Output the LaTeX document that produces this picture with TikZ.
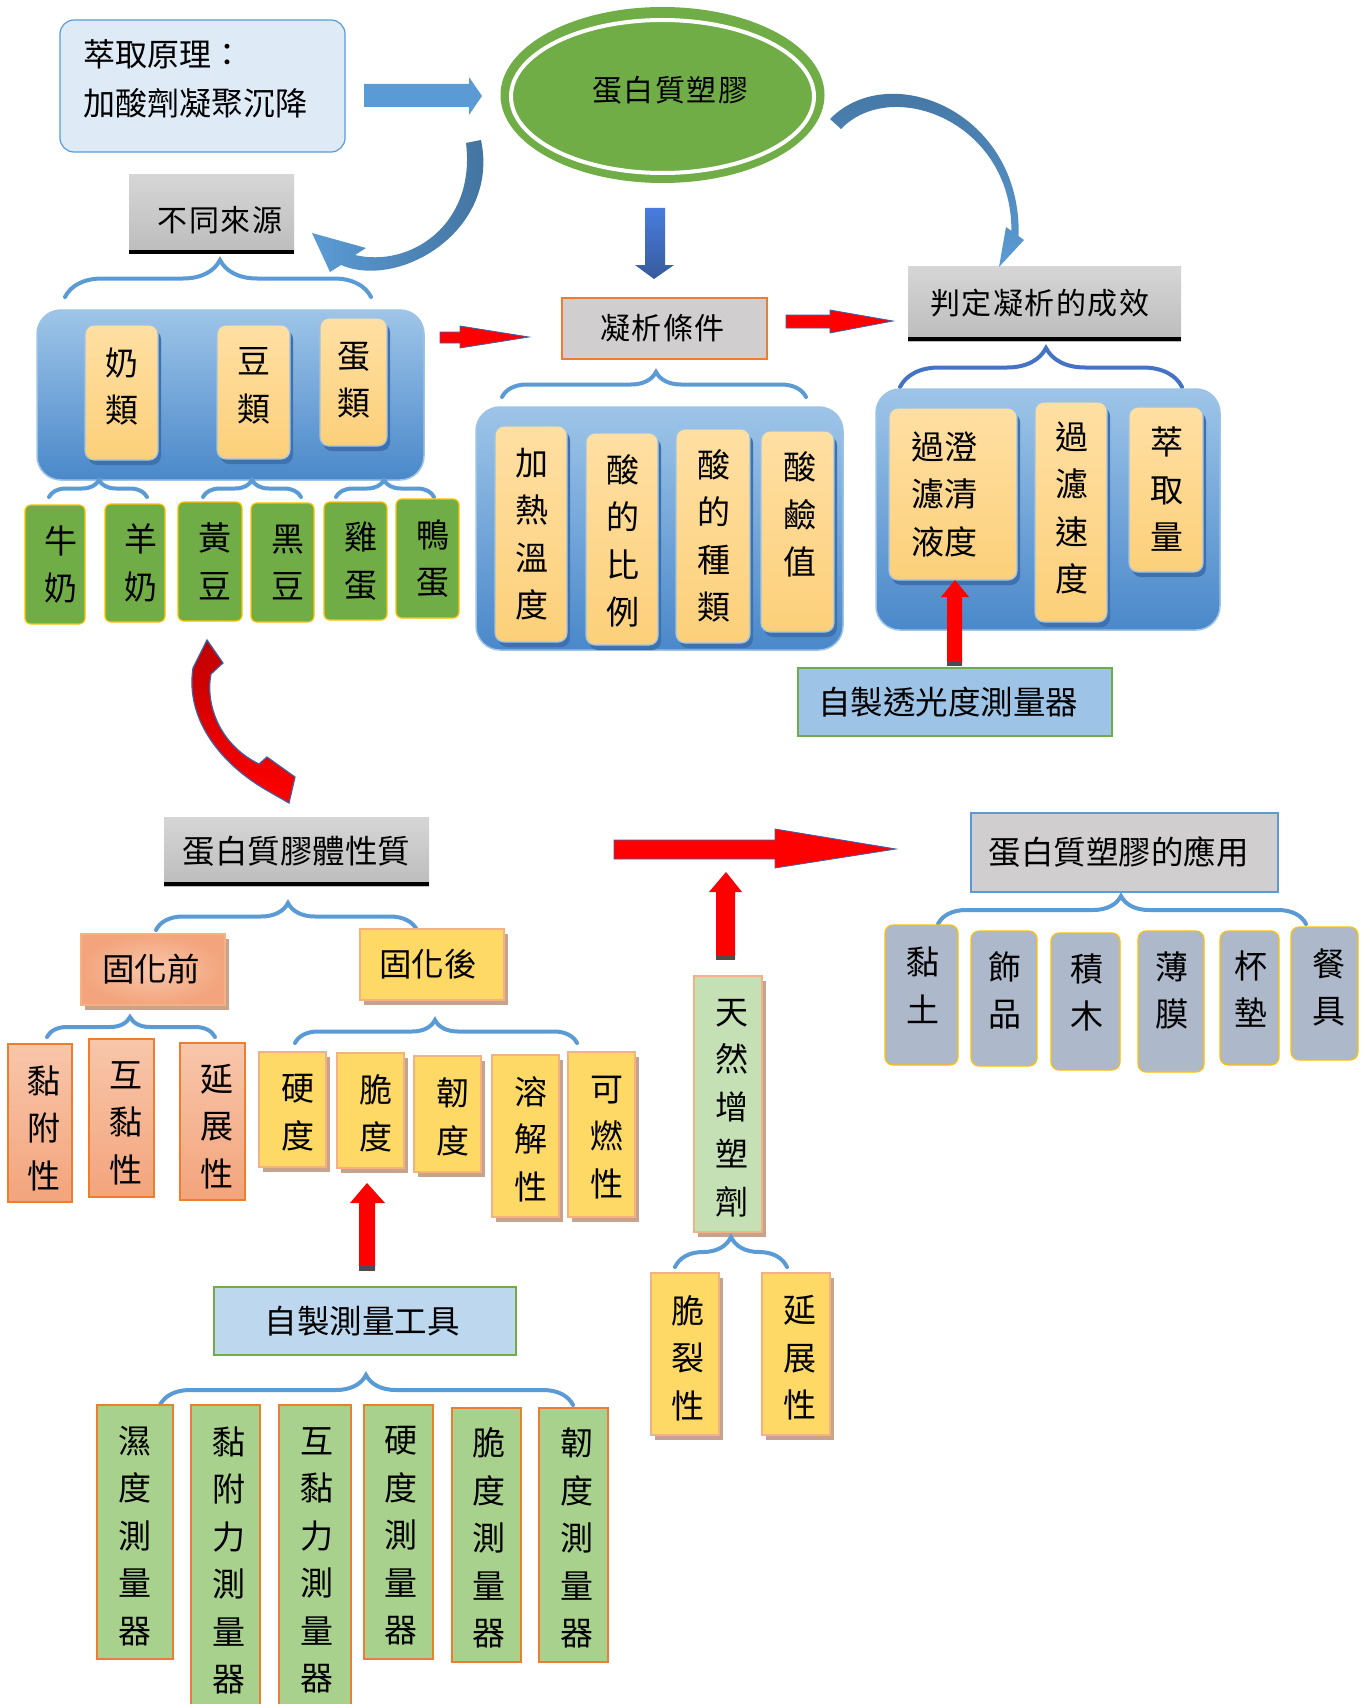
\documentclass[tikz,border=0pt]{standalone}
\usepackage{fontspec}
\setmainfont{Noto Sans CJK TC}
\usetikzlibrary{shapes.geometric,shadows,decorations.pathreplacing}
\definecolor{lbluefill}{HTML}{DEEBF7}
\definecolor{mblue}{HTML}{5B9BD5}
\definecolor{dblue}{HTML}{4472C4}
\definecolor{egreen}{HTML}{70AD47}
\definecolor{ctop}{HTML}{9EC5E8}
\definecolor{cbot}{HTML}{4A88CA}
\definecolor{otop}{HTML}{FFDFA3}
\definecolor{obot}{HTML}{FCD07A}
\definecolor{cardshadow}{HTML}{3E71AE}
\definecolor{gtop}{HTML}{D6D6D6}
\definecolor{gbot}{HTML}{BCBCBC}
\definecolor{lgray}{HTML}{D0CECE}
\definecolor{orangeb}{HTML}{ED7D31}
\definecolor{gold}{HTML}{FFC000}
\definecolor{yel}{HTML}{FFD966}
\definecolor{peach}{HTML}{F4B183}
\definecolor{brsh}{HTML}{C7A38D}
\definecolor{paleg}{HTML}{C5E0B4}
\definecolor{midg}{HTML}{A9D18E}
\definecolor{appc}{HTML}{ADB9CA}
\definecolor{skyb}{HTML}{9DC3E6}
\definecolor{palesky}{HTML}{BDD7EE}
\definecolor{sal1}{HTML}{F8C6AA}
\definecolor{sal2}{HTML}{F3A47C}
\definecolor{redo}{HTML}{3B64A8}
\definecolor{darkarr}{HTML}{41719C}
\newcommand\gp{\hspace{1.5pt}}
% name, box style, font style, x1, y1, x2, y2, text, text offset
\newcommand\bx[9]{\node[#2, minimum width={(#6-#4)*1pt}, minimum height={(#7-#5)*1pt}] (#1) at ({(#4+#6)/2},{(#5+#7)/2}) {};
\node[boxbase, #3, shift={(#9)}] (#1-t) at (#1.center) {#8};}
\newcommand\brc[6]{\pgfmathsetmacro\braceasp{(#4-#1)/(#2-#1)}\draw[bracestyle, draw=#6, decoration={brace, amplitude=#5pt, aspect=\braceasp}] (#1,#3) -- (#2,#3);}
\tikzset{
 boxbase/.style={inner sep=0pt, outer sep=0pt, align=center},
 vtext/.style={font=\fontsize{33pt}{47.5pt}\selectfont},
 htext/.style={font=\fontsize{32.5pt}{40pt}\selectfont},
 ttext/.style={font=\fontsize{30pt}{34pt}\selectfont},
 cont/.style={boxbase, rounded corners=24pt, top color=ctop, bottom color=cbot, draw=skyb, line width=1.5pt},
 ocard/.style={boxbase, rounded corners=9pt, top color=otop, bottom color=obot, draw=skyb, line width=1.2pt, drop shadow={shadow xshift=3pt, shadow yshift=-5pt, fill=cardshadow, opacity=1}},
 gcard/.style={boxbase, rounded corners=6pt, fill=egreen, draw=gold, line width=1.2pt},
 acard/.style={boxbase, rounded corners=8pt, fill=appc, draw=gold, line width=1.2pt},
 ycard/.style={boxbase, fill=yel, draw=peach, line width=1.5pt, drop shadow={shadow xshift=4pt, shadow yshift=-5pt, fill=brsh, opacity=1}},
 pcard/.style={ycard, fill=paleg},
 scard/.style={boxbase, top color=sal1, bottom color=sal2, draw=orangeb, line width=1.2pt},
 mcard/.style={boxbase, fill=midg, draw=orangeb, line width=1.2pt},
 graytitle/.style={boxbase, top color=gtop, bottom color=gbot},
 bracestyle/.style={line width=4pt, line cap=round, decorate},
 redarrow/.style={fill=red, draw=redo, line width=0.8pt},
}
\begin{document}
\begin{tikzpicture}[x=1pt,y=-1pt]
\fill[white] (0,0) rectangle (1370,1704);
\useasboundingbox (0,0) rectangle (1370,1704);

% ---------- top area ----------
\node[boxbase, draw=mblue, fill=lbluefill, rounded corners=14pt, line width=1.2pt,
  minimum width=285pt, minimum height=132pt] (prin) at (202.5,86) {};
\node[boxbase, align=left, anchor=west, font=\fontsize{32pt}{49pt}\selectfont] (prin-t) at (83,79) {萃取原理：\\加酸劑凝聚沉降};

\fill[mblue] (364,84) -- (469,84) -- (469,77) -- (482,96) -- (469,115) -- (469,107) -- (364,107) -- cycle;

\node[ellipse, fill=egreen, inner sep=0pt, minimum width=324pt, minimum height=176pt] (plastic) at (662.5,95) {};
\draw[white, line width=4pt] (662.5,96.5) ellipse [x radius=151.5pt, y radius=76.5pt];
\node[ttext, inner sep=0pt] (plastic-t) at (670,90) {蛋\gp 白\gp 質\gp 塑\gp 膠};

\bx{src}{graytitle}{ttext}{129}{175}{294}{254}{不\gp 同\gp 來\gp 源}{8.5,5.5}
\draw[line width=3.5pt] ([yshift=1.75pt]src.south west) -- ([yshift=1.75pt]src.south east);

\shade[top color=mblue!80!blue, bottom color=dblue!80!black] (645,208) -- (665,208) -- (665,265) -- (674,265) -- (654,279) -- (635,265) -- (645,265) -- cycle;

\bx{cond}{boxbase, fill=lgray, draw=orangeb, line width=1.5pt}{ttext}{562}{298}{767}{359}{凝\gp 析\gp 條\gp 件}{-2,0}
\bx{judge}{graytitle}{ttext}{908}{266}{1181}{341}{判\gp 定\gp 凝\gp 析\gp 的\gp 成\gp 效}{-5,0}
\draw[line width=4pt] ([yshift=2pt]judge.south west) -- ([yshift=2pt]judge.south east);

% curved blue arrows
\shade[left color=mblue, right color=darkarr] (481,140) .. controls (500,230) and (400,290) .. (341,265) -- (330,272) -- (312,233) -- (366,248) -- (355,255) .. controls (410,268) and (476,225) .. (466,143) -- cycle;
\shade[top color=darkarr, bottom color=mblue] (830,119) .. controls (890,58) and (1022,112) .. (1018.6,236.1) -- (1024,240) -- (999,267) -- (1006,227) -- (1011.4,230.9) .. controls (1012,122) and (892,76) .. (841,129) -- cycle;

% red arrows top
\path[redarrow] (440,332) -- (460,332) -- (460,326) -- (529,337) -- (460,348) -- (460,343) -- (440,343) -- cycle;
\path[redarrow] (786,315) -- (830,315) -- (830,310) -- (893,321) -- (830,333) -- (830,328) -- (786,328) -- cycle;

% braces top
\brc{65}{371}{297}{220}{37}{mblue}
\brc{502}{806}{397}{656}{25}{mblue}
\brc{900}{1182}{387}{1046}{39}{dblue}

% containers
\node[cont, minimum width=387pt, minimum height=170pt] (srcbox) at (230.5,395) {};
\node[cont, minimum width=367pt, minimum height=243pt] (condbox) at (659.5,528.5) {};
\node[cont, minimum width=344pt, minimum height=241pt] (judbox) at (1048,509.5) {};

\bx{milk}{ocard}{vtext}{85}{325}{158}{460}{奶\\類}{0,-6}
\bx{bean}{ocard}{vtext}{217}{325}{290}{459}{豆\\類}{0,-6}
\bx{egg}{ocard}{vtext}{320}{318}{387}{446}{蛋\\類}{0,-2}
\bx{heat}{ocard}{vtext}{495}{426}{567}{642}{加\\熱\\溫\\度}{1,0}
\bx{ratio}{ocard}{vtext}{586}{433}{658}{645}{酸\\的\\比\\例}{1,2}
\bx{kind}{ocard}{vtext}{676}{429}{750}{643}{酸\\的\\種\\類}{1,0}
\bx{ph}{ocard}{vtext}{761}{431}{834}{632}{酸\\鹼\\值}{2,-17}
\bx{clar}{ocard}{vtext}{889}{408}{1017}{580}{過澄\\濾清\\液度}{-9,0}
\bx{speed}{ocard}{vtext}{1035}{402}{1107}{622}{過\\濾\\速\\度}{1,-4}
\bx{yieldc}{ocard}{vtext}{1129}{407}{1203}{572}{萃\\取\\量}{1,0}

% small braces
\brc{49}{147}{497}{99}{17}{mblue}
\brc{203}{301}{497}{252}{17}{mblue}
\brc{336}{434}{497}{384}{17}{mblue}

\bx{cow}{gcard}{vtext}{25}{505}{85}{624}{牛\\奶}{6,0}
\bx{goat}{gcard}{vtext}{105}{504}{165}{622}{羊\\奶}{6,0}
\bx{soy}{gcard}{vtext}{178}{502}{242}{621}{黃\\豆}{5,0}
\bx{blk}{gcard}{vtext}{251}{503}{314}{622}{黑\\豆}{5,0}
\bx{chk}{gcard}{vtext}{324}{502}{387}{620}{雞\\蛋}{5,0}
\bx{duck}{gcard}{vtext}{396}{499}{459}{618}{鴨\\蛋}{5,0}

% light meter
\bx{lightm}{boxbase, fill=skyb, draw=egreen, line width=1.5pt}{htext}{798}{668}{1112}{736}{自製透光度測量器}{-7,0}
\path[redarrow, draw=none] (947,665) -- (947,597) -- (941,597) -- (955,580) -- (969,597) -- (962,597) -- (962,665) -- cycle;
\fill[gray!60!black] (947,661) rectangle (962,666);

% red curved arrow
\shade[top color=red!75!black, bottom color=red, draw=redo, line width=1.2pt] (207,640) -- (223,663) -- (211,674) .. controls (205,705) and (220,745) .. (259,764) -- (267,757) -- (295,777) -- (289,803) -- (268,791) .. controls (222,765) and (185,720) .. (193,668) -- cycle;

% ---------- middle ----------
\bx{gel}{graytitle}{htext}{164}{817}{429}{886}{蛋白質膠體性質}{0,0}
\draw[line width=4pt] ([yshift=2pt]gel.south west) -- ([yshift=2pt]gel.south east);

\path[redarrow] (614,840) -- (775,840) -- (775,829) -- (896,849) -- (775,868) -- (775,859) -- (614,859) -- cycle;
\path[redarrow, draw=none] (716,959) -- (716,892) -- (709,892) -- (726,872) -- (742,892) -- (735,892) -- (735,959) -- cycle;
\fill[gray!60!black] (716,955) rectangle (735,960);

\bx{appt}{boxbase, fill=lgray, draw=mblue, line width=1.5pt}{htext}{971}{813}{1278}{892}{蛋白質塑膠的應用}{-6,0}
\brc{938}{1306}{924}{1121}{28}{mblue}
\bx{clay}{acard}{vtext}{885}{925}{958}{1065}{黏\\土}{1,-10}
\bx{orn}{acard}{vtext}{971}{931}{1037}{1066}{飾\\品}{1,-8}
\bx{blocks}{acard}{vtext}{1051}{933}{1120}{1070}{積\\木}{1,-9}
\bx{film}{acard}{vtext}{1138}{931}{1204}{1072}{薄\\膜}{1,-11}
\bx{coaster}{acard}{vtext}{1220}{931}{1279}{1065}{杯\\墊}{1,-9}
\bx{tableware}{acard}{vtext}{1291}{927}{1358}{1060}{餐\\具}{4,-6}

\brc{156}{417}{930}{288}{27}{mblue}
\bx{pre}{boxbase, inner color=sal1, outer color=sal2, draw=peach, line width=1.5pt, drop shadow={shadow xshift=4pt, shadow yshift=-5pt, fill=brsh, opacity=1}}{htext}{81}{934}{225}{1005}{固化前}{-2,0}
\bx{post}{ycard}{htext}{360}{929}{504}{1000}{固化後}{-4,0}

\brc{47}{215}{1037}{130}{20}{mblue}
\brc{295}{577}{1043}{435}{23}{mblue}

\bx{adh}{scard}{vtext}{8}{1044}{72}{1202}{黏\\附\\性}{4,5}
\bx{coh}{scard}{vtext}{89}{1039}{154}{1197}{互\\黏\\性}{4,5}
\bx{duc}{scard}{vtext}{180}{1043}{245}{1200}{延\\展\\性}{4,5}
\bx{hard}{ycard}{vtext}{259}{1052}{326}{1167}{硬\\度}{5,3}
\bx{brit}{ycard}{vtext}{337}{1053}{404}{1168}{脆\\度}{5,3}
\bx{tough}{ycard}{vtext}{414}{1056}{481}{1172}{韌\\度}{5,3}
\bx{sol}{ycard}{vtext}{492}{1055}{559}{1217}{溶\\解\\性}{5,3}
\bx{flam}{ycard}{vtext}{568}{1052}{635}{1217}{可\\燃\\性}{5,3}

\path[redarrow, draw=none] (359,1270) -- (359,1203) -- (350,1203) -- (367,1183) -- (385,1203) -- (375,1203) -- (375,1270) -- cycle;
\fill[gray!60!black] (359,1266) rectangle (375,1271);

\bx{plast}{pcard}{vtext}{694}{976}{762}{1232}{天\\然\\增\\塑\\劑}{4,4}
\brc{675}{787}{1267}{731}{30}{mblue}
\bx{crack}{ycard}{vtext}{651}{1273}{719}{1435}{脆\\裂\\性}{3,4}
\bx{ext}{ycard}{vtext}{762}{1273}{830}{1435}{延\\展\\性}{4,4}

% ---------- bottom ----------
\bx{tools}{boxbase, fill=palesky, draw=egreen, line width=1.5pt}{htext}{214}{1287}{516}{1355}{自製測量工具}{-3,0}
\brc{160}{573}{1405}{366}{30}{mblue}
\bx{m1}{mcard}{vtext}{97}{1405}{173}{1659}{濕\\度\\測\\量\\器}{0,4}
\bx{m2}{mcard}{vtext}{191}{1405}{260}{1712}{黏\\附\\力\\測\\量\\器}{3,2}
\bx{m3}{mcard}{vtext}{279}{1405}{351}{1712}{互\\黏\\力\\測\\量\\器}{2,2}
\bx{m4}{mcard}{vtext}{364}{1405}{433}{1659}{硬\\度\\測\\量\\器}{2,4}
\bx{m5}{mcard}{vtext}{452}{1408}{521}{1662}{脆\\度\\測\\量\\器}{2,3}
\bx{m6}{mcard}{vtext}{539}{1408}{608}{1662}{韌\\度\\測\\量\\器}{3,3}
\end{tikzpicture}
\end{document}
